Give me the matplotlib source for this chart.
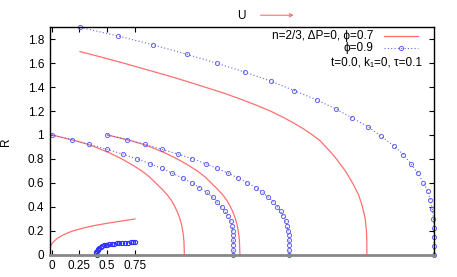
import matplotlib
matplotlib.use("Agg")
import matplotlib.pyplot as plt

plt.rcParams['font.family'] = ['Liberation Sans', 'DejaVu Sans']

# outer bubble, phi=0.9 (markers), starts at x=0.25, R=1.9
xa = [0.255, 0.595, 0.915, 1.216, 1.486, 1.741, 1.976, 2.186, 2.387, 2.559, 2.708, 2.853, 2.967,
      3.08, 3.17, 3.24, 3.30, 3.35, 3.39, 3.41, 3.43, 3.44, 3.445, 3.445, 3.445, 3.445]
ya = [1.9, 1.828, 1.753, 1.675, 1.60, 1.525, 1.449, 1.371, 1.293, 1.218, 1.142, 1.067, 0.99,
      0.91, 0.835, 0.755, 0.68, 0.60, 0.53, 0.456, 0.38, 0.30, 0.224, 0.149, 0.074, 0.0]

# outer bubble, phi=0.7 (line)
xb = [0.255, 0.45, 0.65, 0.84, 1.03, 1.21, 1.38, 1.55, 1.70, 1.84, 1.97, 2.08, 2.18, 2.27,
      2.35, 2.42, 2.47, 2.52, 2.565, 2.645, 2.71, 2.765, 2.80, 2.825, 2.836, 2.84, 2.84]
yb = [1.697, 1.65, 1.6, 1.55, 1.5, 1.45, 1.4, 1.35, 1.3, 1.25, 1.2, 1.15, 1.1, 1.05,
      1.0, 0.95, 0.9, 0.85, 0.8, 0.7, 0.6, 0.5, 0.4, 0.3, 0.2, 0.1, 0.0]

# R=1 bubbles starting at x=0
xc = [0.0, 0.09, 0.22, 0.33, 0.39, 0.52, 0.63, 0.725, 0.81, 0.88, 0.935, 0.99, 1.04, 1.08,
      1.11, 1.135, 1.155, 1.17, 1.18, 1.188, 1.192, 1.194, 1.195]
yc = [1.0, 0.98, 0.95, 0.92, 0.9, 0.85, 0.8, 0.75, 0.7, 0.65, 0.6, 0.55, 0.5, 0.45,
      0.4, 0.35, 0.3, 0.25, 0.2, 0.15, 0.1, 0.05, 0.0]
xd = [0.0, 0.18, 0.339, 0.495, 0.64, 0.766, 0.886, 0.99, 1.087, 1.18, 1.261, 1.33, 1.396,
      1.45, 1.49, 1.53, 1.564, 1.59, 1.613, 1.624, 1.63, 1.636, 1.636, 1.636, 1.636, 1.636]
yd = [1.0, 0.96, 0.92, 0.88, 0.84, 0.80, 0.76, 0.72, 0.68, 0.64, 0.60, 0.56, 0.52,
      0.48, 0.44, 0.40, 0.36, 0.32, 0.28, 0.24, 0.20, 0.16, 0.12, 0.08, 0.04, 0.0]

# R=1 bubbles starting at x=0.5
xe = [0.5, 0.59, 0.72, 0.83, 0.89, 1.02, 1.13, 1.225, 1.31, 1.38, 1.435, 1.49, 1.54, 1.58,
      1.61, 1.635, 1.655, 1.67, 1.68, 1.688, 1.692, 1.694, 1.696]
ye = yc
xf = [0.5, 0.681, 0.841, 0.99, 1.138, 1.267, 1.386, 1.49, 1.59, 1.68, 1.76, 1.838, 1.898,
      1.951, 1.997, 2.032, 2.063, 2.087, 2.108, 2.12, 2.129, 2.135, 2.138, 2.138, 2.138, 2.138]
yf = yd

# small bubbles near the origin
xg = [-0.018, -0.01, 0.0, 0.02, 0.05, 0.1, 0.15, 0.2, 0.3, 0.4, 0.5, 0.6, 0.75]
yg = [0.05, 0.07, 0.088, 0.11, 0.135, 0.162, 0.183, 0.2, 0.225, 0.245, 0.261, 0.276, 0.297]
xh = [0.405, 0.402, 0.403, 0.407, 0.413, 0.42, 0.43, 0.44, 0.455, 0.47, 0.485, 0.50, 0.52,
      0.54, 0.56, 0.585, 0.61, 0.635, 0.66, 0.685, 0.71, 0.735, 0.75]
yh = [0.0, 0.01, 0.02, 0.03, 0.04, 0.05, 0.058, 0.065, 0.071, 0.076, 0.08, 0.083, 0.086,
      0.089, 0.091, 0.093, 0.095, 0.097, 0.099, 0.1, 0.102, 0.104, 0.105]

xticks = [0, 0.25, 0.5, 0.75]
xticklabels = ['0', '0.25', '0.5', '0.75']
yticks = [0, 0.2, 0.4, 0.6, 0.8, 1.0, 1.2, 1.4, 1.6, 1.8]
yticklabels = ['0', '0.2', '0.4', '0.6', '0.8', '1', '1.2', '1.4', '1.6', '1.8']

red = '#ff6f6f'
blue = '#6464f0'

fig = plt.figure(figsize=(4.57, 2.77), dpi=100)
ax = fig.add_axes([0.1088, 0.0812, 0.8409, 0.8202])

for x, y in [(xb, yb), (xc, yc), (xe, ye), (xg, yg)]:
    ax.plot(x, y, color=red, lw=0.9)
for x, y in [(xa, ya), (xd, yd), (xf, yf)]:
    ax.plot(x, y, color=blue, lw=0.8, ls=(0, (1, 2)), marker='o', ms=3.0,
            mfc='none', mec=blue, mew=0.7, clip_on=False)
# the small one is packed so tight it reads as a darker blue
ax.plot(xh, yh, color='#3030ff', lw=0.8, ls=(0, (1, 2)), marker='o', ms=3.0,
        mfc='none', mec='#3030ff', mew=0.8, clip_on=False)

ax.set_xlim(-0.018, 3.445)
ax.set_ylim(0, 1.9)
ax.set_xticks(xticks)
ax.set_xticklabels(xticklabels)
ax.set_yticks(yticks)
ax.set_yticklabels(yticklabels)
ax.tick_params(direction='in', length=3.5, width=0.8, top=True, right=True,
               labelsize=8.5, pad=4, colors='black')
ax.set_ylabel('R', fontsize=8.5)
ax.yaxis.set_label_coords(-0.099, 0.496)
for s in ['left', 'top', 'right']:
    ax.spines[s].set_linewidth(1.0)
ax.spines['bottom'].set_color('#888888')
ax.spines['bottom'].set_linewidth(2.0)

# key
ax.text(0.841, 0.963, 'n=2/3, ΔP=0, ϕ=0.7', transform=ax.transAxes, ha='right', va='center', fontsize=8.5)
ax.plot([0.870, 0.958], [0.963, 0.963], transform=ax.transAxes, color=red, lw=0.9)
ax.text(0.841, 0.910, 'ϕ=0.9', transform=ax.transAxes, ha='right', va='center', fontsize=8.5)
ax.plot([0.870, 0.958], [0.910, 0.910], transform=ax.transAxes, color=blue, lw=0.8, ls=(0, (1, 2)))
ax.plot([0.914], [0.910], transform=ax.transAxes, marker='o', ms=3.0, mfc='none', mec=blue, mew=0.7)
ax.text(0.968, 0.846, 't=0.0, k₁=0, τ=0.1', transform=ax.transAxes, ha='right', va='center', fontsize=8.5)

# flow direction
fig.text(0.529, 0.944, 'U', ha='center', va='center', fontsize=8.5)
fig.add_artist(matplotlib.patches.FancyArrowPatch((0.564, 0.945), (0.649, 0.945), transform=fig.transFigure,
               arrowstyle='->', mutation_scale=6, color=red, lw=0.8))

fig.savefig('out.png', dpi=100)
